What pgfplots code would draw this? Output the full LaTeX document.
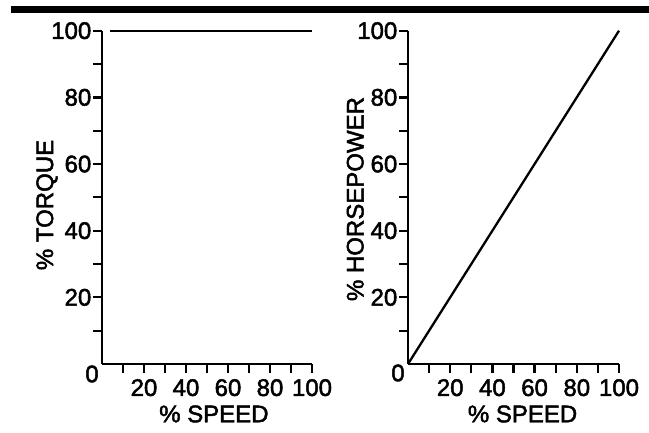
\documentclass[border=0pt]{standalone}
\usepackage{fontspec}
\setmainfont{Liberation Sans}[FakeBold=2]
\usepackage{pgfplots}
\pgfplotsset{compat=1.18}

\pgfplotsset{
  motor/.style={
    scale only axis,
    width=210pt, height=333.3pt,
    xmin=0, xmax=100, ymin=0, ymax=100,
    axis x line*=bottom, axis y line*=left,
    axis line style={line width=2.3pt, -},
    every tick/.style={line width=2.3pt, black},
    tick align=outside,
    major tick length=9pt, minor tick length=9pt,
    xtick={20,40,60,80,100}, minor xtick={10,30,50,70,90},
    ytick={20,40,60,80,100}, minor ytick={10,30,50,70,90},
    font=\fontsize{24}{26}\selectfont,
    /pgf/number format/assume math mode=true,
    xticklabel style={inner sep=1pt, yshift=-5pt},
    yticklabel style={inner xsep=1.5pt},
    clip=false,
  }
}

\begin{document}
\begin{tikzpicture}[x=1pt,y=1pt]
\useasboundingbox (0,0) rectangle (649,433);
\fill[black] (11,420) rectangle (649,427);

% torque: constant
\begin{axis}[motor, at={(102pt,69pt)}, anchor=south west,
  xlabel={\% SPEED}, ylabel={\% TORQUE},
  xlabel style={at={(axis description cs:0.533,-0.15)}, anchor=center},
  ylabel style={at={(axis description cs:-0.262,0.477)}, anchor=center}]
\addplot[line width=2.3pt, black] coordinates {(4,100) (100,100)};
\node[font=\fontsize{24}{26}\selectfont] at (axis cs:0,0) [xshift=-10pt, yshift=-10pt] {0};
\end{axis}

% horsepower: proportional
\begin{axis}[motor, at={(408pt,69pt)}, anchor=south west, width=211pt,
  xlabel={\% SPEED}, ylabel={\% HORSEPOWER},
  xlabel style={at={(axis description cs:0.543,-0.15)}, anchor=center},
  ylabel style={at={(axis description cs:-0.25,0.495)}, anchor=center}]
\addplot[line width=2.3pt, black] coordinates {(0,0) (100,100)};
\node[font=\fontsize{24}{26}\selectfont] at (axis cs:0,0) [xshift=-10pt, yshift=-9pt] {0};
\end{axis}
\end{tikzpicture}
\end{document}
